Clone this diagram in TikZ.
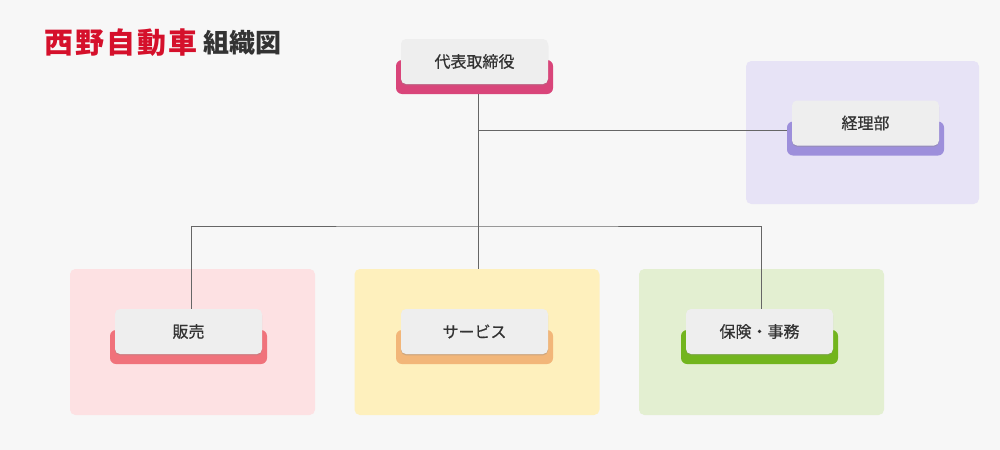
\documentclass[tikz,border=0pt]{standalone}
\usepackage{fontspec}
\setmainfont{Noto Sans CJK JP}
\usetikzlibrary{positioning,shadows}
\definecolor{pagebg}{HTML}{F7F7F7}
\definecolor{titlered}{HTML}{D5102B}
\definecolor{ink}{HTML}{333333}
\definecolor{linegray}{HTML}{666666}
\definecolor{cardbg}{HTML}{EEEEEE}
\definecolor{ceobar}{HTML}{D9457A}
\definecolor{acctbar}{HTML}{9D8FDB}
\definecolor{acctbg}{HTML}{E7E3F6}
\definecolor{salesbar}{HTML}{F0727B}
\definecolor{salesbg}{HTML}{FDE1E3}
\definecolor{svcbar}{HTML}{F2B679}
\definecolor{svcbg}{HTML}{FEF0BD}
\definecolor{insbar}{HTML}{72B51D}
\definecolor{insbg}{HTML}{E3EFD1}
\tikzset{
  panel/.style={rounded corners=4pt, inner sep=0pt, minimum width=183.75pt, minimum height=109.5pt},
  bar/.style={rounded corners=4.5pt, inner sep=0pt, minimum width=117.75pt, minimum height=25.5pt},
  card/.style={fill=cardbg, rounded corners=3.75pt, inner sep=0pt, minimum width=110.25pt,
    minimum height=33.75pt, text=ink, font=\fontsize{12pt}{12pt}\selectfont\addfontfeatures{FakeBold=0.6},
    drop shadow={shadow xshift=0pt, shadow yshift=-1pt, opacity=0.35, fill=black!45}},
  wire/.style={draw=linegray, line width=0.75pt}
}
\begin{document}
\begin{tikzpicture}[x=0.75pt,y=-0.75pt]
\useasboundingbox (0,0) rectangle (1000,450);
\fill[pagebg] (0,0) rectangle (1000,450);
% title
\node[anchor=west, inner sep=0pt, text=titlered, font=\fontsize{21.7pt}{21.7pt}\bfseries\addfontfeatures{LetterSpace=7}] (title) at (44,43) {西野自動車};
\node[right=4.5pt of title, inner sep=0pt, text=ink, font=\fontsize{19.5pt}{19.5pt}\bfseries] (titlesub) {組織図};
% panels
\node[panel, fill=acctbg, minimum width=174.75pt, minimum height=107.25pt] (acctpanel) at (862.5,132.5) {};
\node[panel, fill=salesbg] (salespanel) at (192.5,342) {};
\node[panel, fill=svcbg] (svcpanel) at (477,342) {};
\node[panel, fill=insbg] (inspanel) at (761.5,342) {};
% boxes
\node[bar, fill=ceobar] (ceobar) at (474.5,77) {};
\node[card] (ceo) at (474.5,61.5) {代表取締役};
\node[bar, fill=acctbar] (acctbar) at (865.5,138.5) {};
\node[card] (acct) at (865.5,123) {経理部};
\node[bar, fill=salesbar] (salesbar) at (188.5,347) {};
\node[card] (sales) at (188.5,331.5) {販売};
\node[bar, fill=svcbar] (svcbar) at (474.5,347) {};
\node[card] (svc) at (474.5,331.5) {サービス};
\node[bar, fill=insbar] (insbar) at (759.5,347) {};
\node[card] (ins) at (759.5,331.5) {保険・事務};
% lines
\coordinate (jA) at (478,130);
\coordinate (jB) at (478,226);
\draw[wire] (jA |- ceobar.south) -- (jA |- svcpanel.north);
\draw[wire] (jA) -- (jA -| acctbar.west);
\draw[wire] ([xshift=1.9pt]sales.north) |- (jB) -| ([xshift=1.2pt]ins.north);
\end{tikzpicture}
\end{document}
